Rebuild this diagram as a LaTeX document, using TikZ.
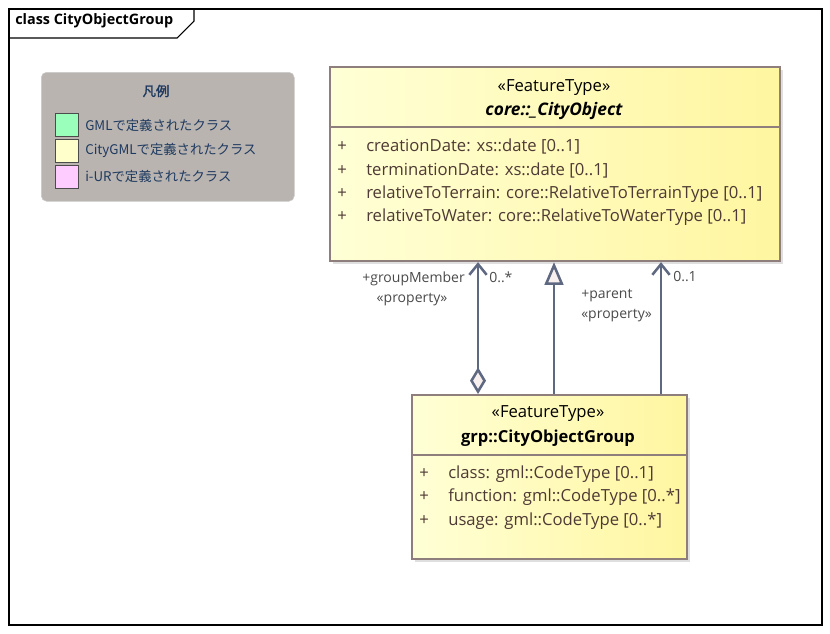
\documentclass[tikz,border=0pt]{standalone}
\usepackage{fontspec}
\setmainfont{Open Sans}
\newfontfamily\jpfont{Noto Sans CJK JP}
\newfontfamily\jpboldfont{Noto Sans CJK JP}[FakeBold=2]
\usetikzlibrary{arrows.meta,shadows}

\definecolor{classedge}{HTML}{8E7E7C}
\definecolor{classlight}{HTML}{FFFFD6}
\definecolor{classdark}{HTML}{FFF6A0}
\definecolor{attrtext}{HTML}{4E3A34}
\definecolor{connline}{HTML}{5E6880}
\definecolor{tipfill}{HTML}{F8F0EE}
\definecolor{labeltext}{HTML}{4A4A4A}
\definecolor{legendbg}{HTML}{B9B4B0}
\definecolor{legendtext}{HTML}{1F3A60}
\definecolor{gmlgreen}{HTML}{99FFBB}
\definecolor{citygmlyellow}{HTML}{FFFFCC}
\definecolor{iurpink}{HTML}{FFCCFF}

\begin{document}
\begin{tikzpicture}[
  x=0.75pt, y=-0.75pt,
  font=\fontsize{12.5}{14}\selectfont,
  umlclass/.style={draw=classedge, line width=1.6pt, anchor=north west,
    left color=classlight, right color=classdark, inner sep=0pt,
    drop shadow={shadow xshift=2pt, shadow yshift=-2pt, fill=black!25}},
  stereo/.style={inner sep=0pt},
  attr/.style={anchor=base west, inner sep=0pt, text=attrtext},
  conn/.style={draw=connline, line width=1.9pt},
  rolelabel/.style={inner sep=0pt, text=labeltext, font=\fontsize{10.5}{12}\selectfont},
  swatch/.style={draw=black!70, line width=0.9pt, anchor=north west,
    minimum width=17.25pt, minimum height=17.25pt, inner sep=0pt},
  legendentry/.style={anchor=west, inner sep=0pt, text=legendtext,
    font=\fontsize{10}{12}\selectfont}]
  \useasboundingbox (0,0) rectangle (830,633);

  % diagram frame with its name tab
  \draw[line width=0.8pt] (9,9) rectangle (822,625);
  \draw[line width=0.8pt] (9,38) -- (177,38) -- (194,21) -- (194,9);
  \node[anchor=west, inner sep=0pt, font=\fontsize{10.8}{12}\selectfont\bfseries] (title) at (15,21) {class CityObjectGroup};

  % legend
  \node[fill=legendbg, draw=black!20, rounded corners=4pt, anchor=north west,
    minimum width=189.75pt, minimum height=96.75pt] (legend) at (41,72) {};
  \node[text=legendtext, font=\jpboldfont\fontsize{10}{12}\selectfont] (legendtitle) at (156,91) {凡例};
  \node[swatch, fill=gmlgreen] (gml) at (55,113) {};
  \node[swatch, fill=citygmlyellow] (citygml) at (55,139) {};
  \node[swatch, fill=iurpink] (iur) at (55,165) {};
  \node[legendentry] at (85,125) {\jpfont GMLで定義されたクラス};
  \node[legendentry] at (85,150) {\jpfont CityGMLで定義されたクラス};
  \node[legendentry] at (85,176) {\jpfont i-URで定義されたクラス};

  % core::_CityObject
  \node[umlclass, minimum width=337.5pt, minimum height=145.5pt] (city) at (329,66) {};
  \draw[classedge, line width=1.6pt] (329,127) -- (779,127);
  \node[stereo] (citystereo) at (554,88) {«FeatureType»};
  \node[stereo, font=\fontsize{13}{15}\selectfont\bfseries\itshape] (cityname) at (554,111) {core::\_CityObject};
  \node[attr] at (337,151) {+};
  \node[attr] at (366,151) {creationDate: xs::date [0..1]};
  \node[attr] at (337,175) {+};
  \node[attr] at (366,175) {terminationDate: xs::date [0..1]};
  \node[attr] at (337,198) {+};
  \node[attr] at (366,198) {relativeToTerrain: core::RelativeToTerrainType [0..1]};
  \node[attr] at (337,221) {+};
  \node[attr] at (366,221) {relativeToWater: core::RelativeToWaterType [0..1]};

  % grp::CityObjectGroup
  \node[umlclass, minimum width=206.25pt, minimum height=123pt] (group) at (411,394) {};
  \draw[classedge, line width=1.6pt] (411,455) -- (686,455);
  \node[stereo] (groupstereo) at (548,414) {«FeatureType»};
  \node[stereo, font=\fontsize{12.4}{14}\selectfont\bfseries] (groupname) at (548,438) {grp::CityObjectGroup};
  \node[attr] at (419,478) {+};
  \node[attr] at (448,478) {class: gml::CodeType [0..1]};
  \node[attr] at (419,501) {+};
  \node[attr] at (448,501) {function: gml::CodeType [0..*]};
  \node[attr] at (419,525) {+};
  \node[attr] at (448,525) {usage: gml::CodeType [0..*]};

  % connectors
  \coordinate (aggx) at (478,0);
  \coordinate (genx) at (554,0);
  \coordinate (parx) at (661,0);
  \draw[conn, {Diamond[open, fill=tipfill, length=20pt, width=12pt]}-{Straight Barb[length=8pt, width=13pt]}]
    (group.north -| aggx) -- (city.south -| aggx);
  \draw[conn, -{Triangle[open, fill=tipfill, length=17pt, width=14pt]}]
    (group.north -| genx) -- (city.south -| genx);
  \draw[conn, -{Straight Barb[length=8pt, width=13pt]}]
    (group.north -| parx) -- (city.south -| parx);

  % role names and multiplicities
  \node[rolelabel, anchor=east] (memberrole) at (465,279) {+groupMember};
  \node[rolelabel] (memberstereo) at (412,300) {«property»};
  \node[rolelabel, anchor=west] (membermult) at (489,277) {0..*};
  \node[rolelabel, anchor=west] (parentrole) at (581,296) {+parent};
  \node[rolelabel, anchor=west] (parentstereo) at (581,316) {«property»};
  \node[rolelabel, anchor=west] (parentmult) at (673,277) {0..1};
\end{tikzpicture}
\end{document}
